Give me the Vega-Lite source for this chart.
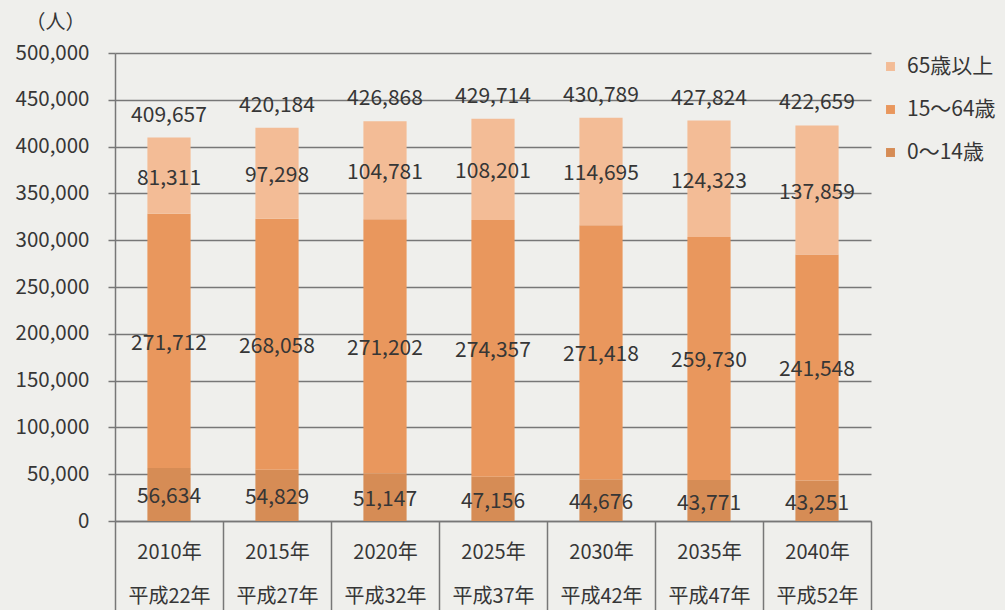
{
  "$schema": "https://vega.github.io/schema/vega-lite/v6.json",
  "width": 756,
  "height": 468,
  "autosize": {"type": "none"},
  "padding": {"left": 115, "top": 53, "right": 134, "bottom": 89},
  "background": "#EFEFEC",
  "config": {
    "font": "Noto Sans CJK JP",
    "view": {"stroke": null},
    "text": {"font": "Noto Sans CJK JP", "color": "#363636"},
    "axisY": {
      "titleAngle": 0,
      "titleX": -60,
      "titleY": -31,
      "titleAlign": "center",
      "titleBaseline": "middle",
      "titleFontSize": 20,
      "titleFontWeight": "normal",
      "titleColor": "#363636",
      "labelFontSize": 20.5,
      "labelColor": "#363636",
      "labelPadding": 19,
      "tickSize": 7,
      "tickColor": "#777777",
      "tickWidth": 1.5,
      "grid": true,
      "gridColor": "#777777",
      "gridWidth": 1.5,
      "domainColor": "#777777",
      "domainWidth": 1.5
    }
  },
  "datasets": {
    "seg": [
      {"x": "2010年|平成22年", "group": "0〜14歳", "k": 0, "value": 56634},
      {"x": "2010年|平成22年", "group": "15〜64歳", "k": 1, "value": 271712},
      {"x": "2010年|平成22年", "group": "65歳以上", "k": 2, "value": 81311},
      {"x": "2015年|平成27年", "group": "0〜14歳", "k": 0, "value": 54829},
      {"x": "2015年|平成27年", "group": "15〜64歳", "k": 1, "value": 268058},
      {"x": "2015年|平成27年", "group": "65歳以上", "k": 2, "value": 97298},
      {"x": "2020年|平成32年", "group": "0〜14歳", "k": 0, "value": 51147},
      {"x": "2020年|平成32年", "group": "15〜64歳", "k": 1, "value": 271202},
      {"x": "2020年|平成32年", "group": "65歳以上", "k": 2, "value": 104781},
      {"x": "2025年|平成37年", "group": "0〜14歳", "k": 0, "value": 47156},
      {"x": "2025年|平成37年", "group": "15〜64歳", "k": 1, "value": 274357},
      {"x": "2025年|平成37年", "group": "65歳以上", "k": 2, "value": 108201},
      {"x": "2030年|平成42年", "group": "0〜14歳", "k": 0, "value": 44676},
      {"x": "2030年|平成42年", "group": "15〜64歳", "k": 1, "value": 271418},
      {"x": "2030年|平成42年", "group": "65歳以上", "k": 2, "value": 114695},
      {"x": "2035年|平成47年", "group": "0〜14歳", "k": 0, "value": 43771},
      {"x": "2035年|平成47年", "group": "15〜64歳", "k": 1, "value": 259730},
      {"x": "2035年|平成47年", "group": "65歳以上", "k": 2, "value": 124323},
      {"x": "2040年|平成52年", "group": "0〜14歳", "k": 0, "value": 43251},
      {"x": "2040年|平成52年", "group": "15〜64歳", "k": 1, "value": 241548},
      {"x": "2040年|平成52年", "group": "65歳以上", "k": 2, "value": 137859}
    ],
    "tot": [
      {"x": "2010年|平成22年", "total": 409657},
      {"x": "2015年|平成27年", "total": 420184},
      {"x": "2020年|平成32年", "total": 426868},
      {"x": "2025年|平成37年", "total": 429714},
      {"x": "2030年|平成42年", "total": 430789},
      {"x": "2035年|平成47年", "total": 427824},
      {"x": "2040年|平成52年", "total": 422659}
    ]
  },
  "encoding": {
    "x": {
      "field": "x", "type": "nominal",
      "scale": {
        "domain": ["2010年|平成22年", "2015年|平成27年", "2020年|平成32年", "2025年|平成37年", "2030年|平成42年", "2035年|平成47年", "2040年|平成52年"],
        "paddingInner": 0, "paddingOuter": 0
      },
      "axis": {
        "title": null,
        "labelAngle": 0,
        "labelExpr": "split(datum.label, '|')",
        "labelFontSize": 20,
        "labelLineHeight": 44,
        "labelBaseline": "middle",
        "labelPadding": -58,
        "labelColor": "#363636",
        "tickBand": "extent",
        "tickSize": 89,
        "tickColor": "#777777",
        "tickWidth": 1.5,
        "domainColor": "#777777",
        "domainWidth": 1.5,
        "grid": false
      }
    }
  },
  "layer": [
    {
      "data": {"name": "seg"},
      "transform": [
        {"stack": "value", "groupby": ["x"], "sort": [{"field": "k", "order": "ascending"}], "as": ["v0", "v1"]}
      ],
      "mark": {"type": "bar", "width": {"band": 0.4}},
      "encoding": {
        "y": {
          "field": "v0", "type": "quantitative",
          "scale": {"domain": [0, 500000], "nice": false},
          "axis": {
            "title": "（人）",
            "tickCount": 10,
            "labelExpr": "format(datum.value, ',')"
          }
        },
        "y2": {"field": "v1"},
        "color": {
          "field": "group", "type": "nominal",
          "scale": {
            "domain": ["65歳以上", "15〜64歳", "0〜14歳"],
            "range": ["#F3BC96", "#E9975D", "#D68C55"]
          },
          "legend": {
            "title": null,
            "orient": "none",
            "legendX": 765,
            "legendY": 3,
            "symbolType": "square",
            "symbolSize": 80,
            "symbolStrokeWidth": 0,
            "labelFontSize": 21,
            "labelColor": "#363636",
            "labelOffset": 6,
            "rowPadding": 21,
            "padding": 0
          }
        }
      }
    },
    {
      "data": {"name": "seg"},
      "transform": [
        {"stack": "value", "groupby": ["x"], "sort": [{"field": "k", "order": "ascending"}], "as": ["v0", "v1"]},
        {"calculate": "(datum.v0 + datum.v1) / 2", "as": "mid"}
      ],
      "mark": {"type": "text", "fontSize": 21, "baseline": "middle", "dy": 3},
      "encoding": {
        "y": {
          "field": "mid", "type": "quantitative",
          "axis": {
            "title": "（人）",
            "tickCount": 10,
            "labelExpr": "format(datum.value, ',')"
          }
        },
        "text": {"field": "value", "type": "quantitative", "format": ","}
      }
    },
    {
      "data": {"name": "tot"},
      "mark": {"type": "text", "fontSize": 21, "baseline": "middle", "dy": -22},
      "encoding": {
        "y": {
          "field": "total", "type": "quantitative",
          "axis": {
            "title": "（人）",
            "tickCount": 10,
            "labelExpr": "format(datum.value, ',')"
          }
        },
        "text": {"field": "total", "type": "quantitative", "format": ","}
      }
    }
  ]
}
